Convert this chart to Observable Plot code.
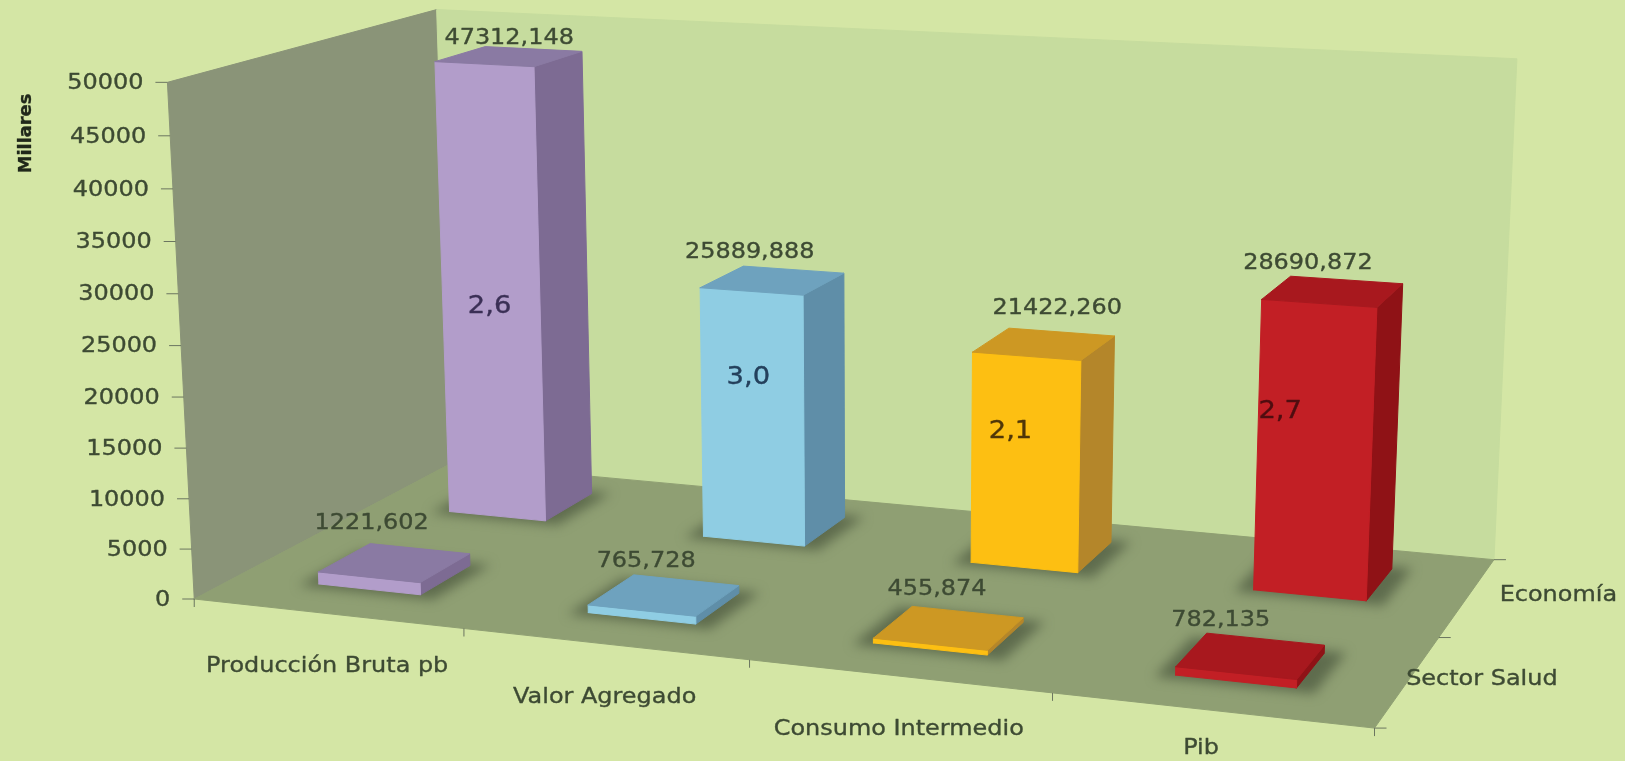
<!DOCTYPE html>
<html><head><meta charset="utf-8">
<script src="https://cdn.jsdelivr.net/npm/d3@7"></script>
<script src="https://cdn.jsdelivr.net/npm/@observablehq/plot@0.6"></script>
<style>html,body{margin:0;padding:0;background:#d4e6a5;overflow:hidden}svg{display:block}</style>
</head><body><div id="chart"></div>
<script>
// ---- data ----
const categorias = ["Producción Bruta pb", "Valor Agregado", "Consumo Intermedio", "Pib"];
const economia = [47312.148, 25889.888, 21422.26, 28690.872];
const sectorSalud = [1221.602, 765.728, 455.874, 782.135];
const participacion = ["2,6", "3,0", "2,1", "2,7"];
const filas = ["Sector Salud", "Economía"];
const ticksValor = [0, 5000, 10000, 15000, 20000, 25000, 30000, 35000, 40000, 45000, 50000];
const maxValor = 50000;

// ---- styles ----
const frente = ["#b29dca", "#8fcde3", "#fdbf12", "#c21f25"];
const lateral = ["#7d6b93", "#5f8ea8", "#b4862a", "#8f1216"];
const tapa = ["#8a7aa3", "#6ea2be", "#cd9823", "#a8181e"];
const bg = "#d4e6a5", paredFondo = "#c6dc9e", paredIzq = "#8a9478", piso = "#8f9f73";
const tinta = "#3d4a33";
const tintaInterna = ["#3a2f55", "#24405c", "#4f3608", "#4f0d10"];

// ---- camera: calibration of the 3D frame (u across, w depth, h value share -> screen) ----
const calib = [
  [0,0,0,197,596],[1,0,0,1373,728],[1,1,0,1495,554],[0,1,0,446,466],
  [0,0,1,164,83],[0,1,1,440,10],[1,1,1,1516,59],
  [.25,0,0,463,628],[.5,0,0,753,663],[.75,0,0,1049,696],
  [0,0,.2,190,496],[0,0,.4,184,396],[0,0,.6,177,292],[0,0,.8,171,186.5]
];
function solve(A, b) {
  const n = b.length, M = A.map((r, i) => [...r, b[i]]);
  for (let i = 0; i < n; i++) {
    let p = i; for (let k = i + 1; k < n; k++) if (Math.abs(M[k][i]) > Math.abs(M[p][i])) p = k;
    [M[i], M[p]] = [M[p], M[i]];
    for (let k = i + 1; k < n; k++) { const f = M[k][i] / M[i][i]; for (let j = i; j <= n; j++) M[k][j] -= f * M[i][j]; }
  }
  const s = Array(n).fill(0);
  for (let i = n - 1; i >= 0; i--) { let t = M[i][n]; for (let j = i + 1; j < n; j++) t -= M[i][j] * s[j]; s[i] = t / M[i][i]; }
  return s;
}
const R = [], T = [];
for (const [u, w, h, x, y] of calib) {
  R.push([u, w, h, 1, 0, 0, 0, 0, -x*u, -x*w, -x*h]); T.push(x);
  R.push([0, 0, 0, 0, u, w, h, 1, -y*u, -y*w, -y*h]); T.push(y);
}
const AtA = d3.range(11).map(i => d3.range(11).map(j => d3.sum(R, r => r[i]*r[j])));
const Atb = d3.range(11).map(i => d3.sum(R, (r, k) => r[i]*T[k]));
const P = solve(AtA, Atb);
function pr(u, w, h) {
  const t = P[8]*u + P[9]*w + P[10]*h + 1;
  return [(P[0]*u + P[1]*w + P[2]*h + P[3]) / t, (P[4]*u + P[5]*w + P[6]*h + P[7]) / t];
}

// ---- geometry of faces ----
const anchoBarra = 0.048, filasW = [[0.155, 0.35], [0.67, 0.88]];
const caras = [];
function cara(id, color, pts) { for (const [u, w, h] of [...pts, pts[0]]) { const [x, y] = pr(u, w, h); caras.push({id, color, x, y}); } }
cara("izq", paredIzq, [[0,0,0],[0,1,0],[0,1,1],[0,0,1]]);
cara("fondo", paredFondo, [[0,1,0],[1,1,0],[1,1,1],[0,1,1]]);
cara("piso", piso, [[0,0,0],[1,0,0],[1,1,0],[0,1,0]]);
const nMarco = caras.length;

const sombras = [];
[1, 0].forEach(f => categorias.forEach((c, i) => {
  const uc = (i + .5) / 4, [w0, w1] = filasW[f];
  const a = uc - anchoBarra - .014, b = uc + anchoBarra + .016;
  for (const [u, w] of [[a, w0 - .02],[b, w0 - .02],[b, w1 + .015],[a, w1 + .015],[a, w0 - .02]]) {
    const [x, y] = pr(u, w, 0); sombras.push({id: f + "-" + i, x, y});
  }
}));
[1, 0].forEach(f => categorias.forEach((c, i) => {
  const v = (f ? economia : sectorSalud)[i] / maxValor;
  const uc = (i + .5) / 4, a = uc - anchoBarra, b = uc + anchoBarra, [w0, w1] = filasW[f];
  const id = f + "-" + i + "-";
  cara(id + "l", lateral[i], [[b,w0,0],[b,w1,0],[b,w1,v],[b,w0,v]]);
  cara(id + "f", frente[i], [[a,w0,0],[b,w0,0],[b,w0,v],[a,w0,v]]);
  cara(id + "t", tapa[i], [[a,w0,v],[b,w0,v],[b,w1,v],[a,w1,v]]);
}));

// ---- labels ----
const fmt = v => v.toFixed(3).replace(".", ",");
const ajusteEco = [[0,-19],[-23,-29],[13,-37],[-25,-29]];
const ajusteSalud = [[-23,-40],[-18,-35],[-12,-40],[-30,-37]];
const ajusteInterno = [[0,57],[-4,-16],[-15,-11],[-35,-11]];
const ajusteCat = [[0,52],[0,52],[0,52],[-10,37]];
const ajusteFila = [[74,-3],[91,-3]];
const etiquetasValor = [];
[1, 0].forEach(f => categorias.forEach((c, i) => {
  const val = (f ? economia : sectorSalud)[i], [w0, w1] = filasW[f];
  const [x, y] = pr((i + .5) / 4, (w0 + w1) / 2, val / maxValor);
  const [dx, dy] = (f ? ajusteEco : ajusteSalud)[i];
  etiquetasValor.push({t: fmt(val), x: x + dx, y: y + dy});
}));
const internas = categorias.map((c, i) => {
  const [x, y] = pr((i + .5) / 4, filasW[1][0], economia[i] / maxValor * .6);
  return {t: participacion[i], x: x + ajusteInterno[i][0], y: y + ajusteInterno[i][1], c: tintaInterna[i]};
});
const ticksY = ticksValor.map(v => { const [x, y] = pr(0, 0, v / maxValor); return {v, x, y}; });
const ticksX = d3.range(5).map(i => { const [x, y] = pr(i / 4, 0, 0); return {x, y}; });
const ticksZ = d3.range(3).map(i => { const [x, y] = pr(1, i / 2, 0); return {x, y}; });
const etqCat = categorias.map((t, i) => { const [x, y] = pr((i + .5) / 4, 0, 0); return {t, x: x + ajusteCat[i][0], y: y + ajusteCat[i][1]}; });
const etqFila = filas.map((t, i) => { const [x, y] = pr(1, i * .5 + .25, 0); return {t, x: x + ajusteFila[i][0], y: y + ajusteFila[i][1]}; });

const txt = {fontFamily: "DejaVu Sans", fill: tinta, stroke: tinta, strokeWidth: 0.35};
const plot = Plot.plot({
  width: 1625, height: 761, margin: 0,
  x: {domain: [0, 1625], range: [0, 1625], axis: null},
  y: {domain: [0, 761], range: [0, 761], axis: null},
  color: {type: "identity"},
  style: {background: bg, filter: "blur(0.6px)"},
  marks: [
    Plot.line(caras.slice(0, nMarco), {x: "x", y: "y", z: "id", fill: "color", stroke: "color", strokeWidth: 1}),
    Plot.line(sombras, {x: "x", y: "y", z: "id", fill: "#566346", stroke: "none", fillOpacity: .85, imageFilter: "blur(6px)"}),
    Plot.line(caras.slice(nMarco), {x: "x", y: "y", z: "id", fill: "color", stroke: "color", strokeWidth: 1}),
    Plot.link(ticksY, {x1: "x", y1: "y", x2: d => d.x - 12, y2: "y", stroke: "#6b7560", strokeWidth: 1}),
    Plot.link(ticksX, {x1: "x", y1: "y", x2: "x", y2: d => d.y + 8, stroke: "#6b7560", strokeWidth: 1}),
    Plot.link(ticksZ, {x1: "x", y1: "y", x2: d => d.x + 12, y2: "y", stroke: "#6b7560", strokeWidth: 1}),
    Plot.text(ticksY, {...txt, x: d => d.x - 24, y: "y", text: d => String(d.v), textAnchor: "end", fontSize: 21}),
    Plot.text(etqCat, {...txt, x: "x", y: "y", text: "t", fontSize: 21}),
    Plot.text(etqFila, {...txt, x: "x", y: "y", text: "t", fontSize: 21}),
    Plot.text(etiquetasValor, {...txt, x: "x", y: "y", text: "t", fontSize: 21}),
    Plot.text(internas, {fontFamily: "DejaVu Sans", x: "x", y: "y", text: "t", fill: "c", stroke: "c", strokeWidth: 0.35, fontSize: 24}),
    Plot.text(["Millares"], {frameAnchor: "top-left", dx: 18, dy: 133, textAnchor: "middle", text: d => d, rotate: -90, fontFamily: "DejaVu Sans", fontWeight: "bold", fontSize: 17, fill: "#20281a", stroke: "#20281a", strokeWidth: 0.3})
  ]
});
document.getElementById("chart").append(plot);
// the reference's lettering is stretched sideways
plot.querySelectorAll("text").forEach(n => {
  const l = n.getComputedTextLength();
  n.setAttribute("textLength", l * (n.textContent === "Millares" ? 1.05 : 1.14));
  n.setAttribute("lengthAdjust", "spacingAndGlyphs");
});
</script></body></html>
